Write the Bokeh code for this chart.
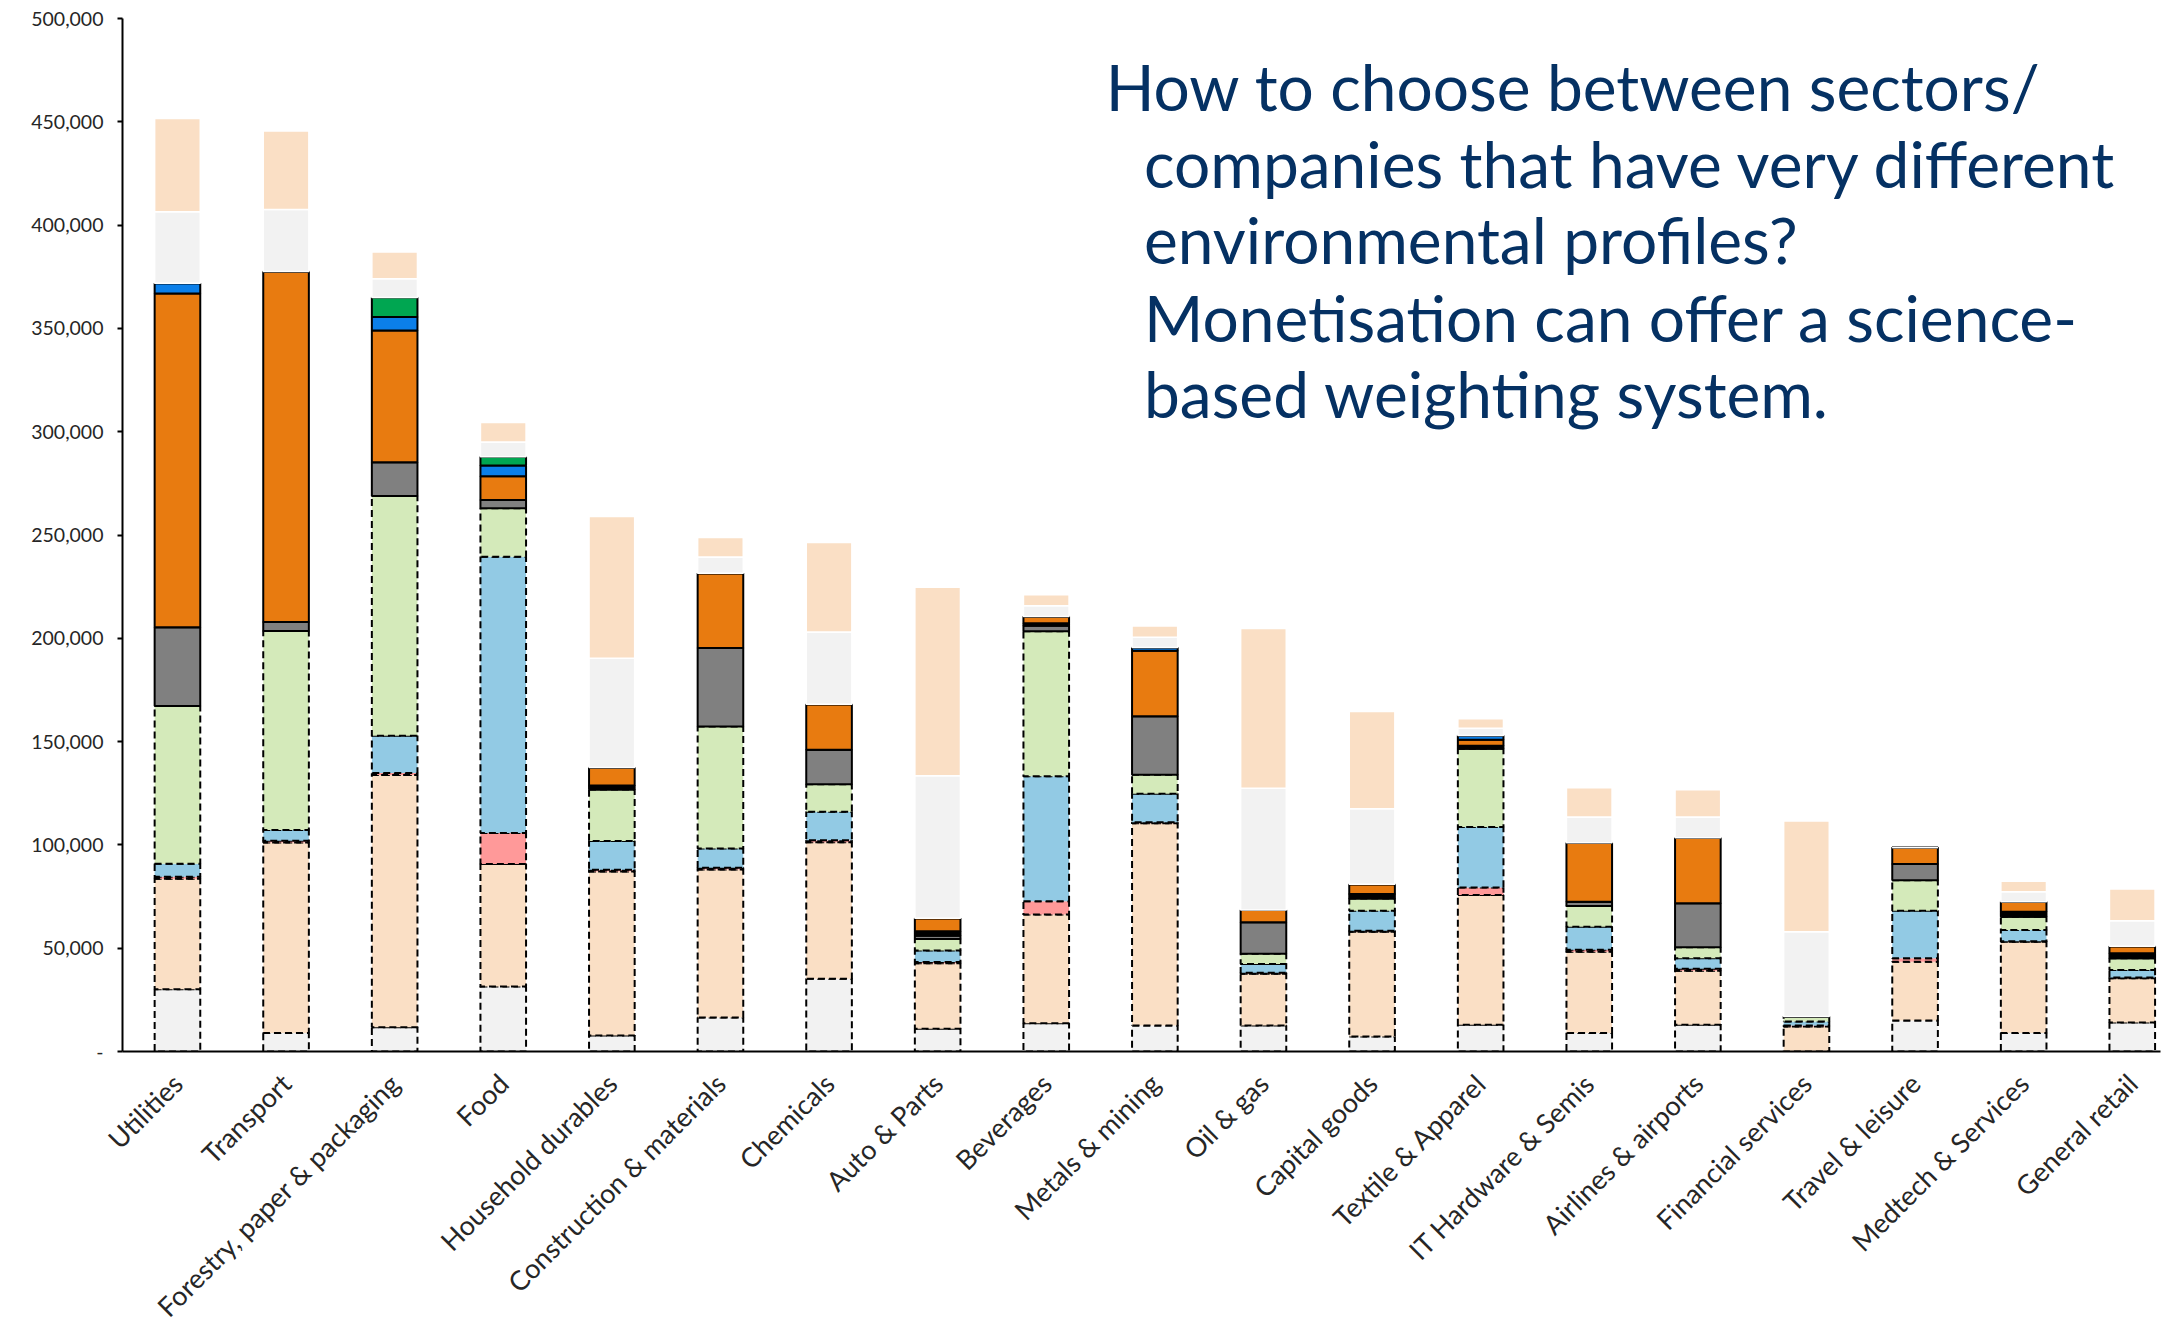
import math
import numpy as np
from bokeh.plotting import figure
from bokeh.models import ColumnDataSource, Range1d, FixedTicker, NumeralTickFormatter, Label
from bokeh.embed import file_html
from bokeh.resources import INLINE

# ---------------- data (values in thousands) ----------------
categories = ["Utilities", "Transport", "Forestry, paper & packaging", "Food",
              "Household durables", "Construction & materials", "Chemicals",
              "Auto & Parts", "Beverages", "Metals & mining", "Oil & gas",
              "Capital goods", "Textile & Apparel", "IT Hardware & Semis",
              "Airlines & airports", "Financial services", "Travel & leisure",
              "Medtech & Services", "General retail"]

base_grey   = [30.1, 9.0, 11.7, 31.5, 7.7, 16.5, 35.2, 11.0, 13.7, 12.6, 12.6, 7.2, 12.9, 8.9, 12.9, 0.0, 15.0, 8.9, 14.0]
peach       = [53.5, 92.2, 122.1, 59.2, 79.4, 71.6, 66.1, 31.7, 52.6, 97.9, 25.0, 50.8, 62.8, 39.4, 26.2, 12.1, 28.5, 44.2, 21.4]
pink        = [1.0, 0.8, 1.0, 15.1, 0.9, 0.9, 0.9, 0.6, 6.4, 0.5, 0.5, 0.5, 3.7, 0.9, 0.9, 0.5, 1.6, 0.3, 0.4]
light_blue  = [6.3, 5.2, 18.0, 133.7, 13.9, 9.3, 13.8, 5.6, 60.5, 13.7, 4.3, 9.6, 29.3, 11.2, 5.1, 1.9, 23.0, 5.4, 3.7]
light_green = [76.3, 96.3, 116.1, 23.5, 24.9, 59.0, 13.4, 5.6, 70.2, 9.3, 4.9, 6.0, 37.8, 10.0, 5.3, 2.4, 14.8, 6.4, 5.6]
dark_grey   = [38.2, 4.4, 16.3, 4.0, 0.0, 38.0, 16.7, 1.5, 2.7, 28.3, 15.3, 0.0, 0.0, 2.1, 21.3, 0.0, 7.8, 0.0, 0.0]
black       = [0.0, 0.0, 0.0, 0.0, 2.0, 0.0, 0.0, 2.2, 1.2, 0.0, 0.0, 2.1, 1.5, 0.0, 0.0, 0.0, 0.0, 2.4, 2.4]
orange      = [161.5, 169.6, 63.8, 11.4, 8.7, 36.2, 22.0, 6.3, 3.2, 31.7, 5.9, 4.8, 2.9, 28.5, 31.8, 0.0, 8.0, 4.9, 3.5]
blue        = [4.9, 0.0, 6.5, 5.3, 0.0, 0.0, 0.0, 0.0, 0.0, 1.6, 0.0, 0.0, 2.1, 0.0, 0.0, 0.0, 0.0, 0.0, 0.0]
green       = [0.0, 0.0, 9.5, 4.2, 0.0, 0.0, 0.0, 0.0, 0.0, 0.0, 0.0, 0.0, 0.0, 0.0, 0.0, 0.0, 0.0, 0.0, 0.0]
top_grey    = [34.7, 30.0, 9.0, 7.1, 52.9, 7.8, 34.9, 69.0, 5.3, 4.9, 58.9, 36.5, 3.5, 12.5, 10.0, 41.1, 0.0, 4.8, 12.3]
top_peach   = [45.1, 38.1, 13.0, 9.5, 68.6, 9.5, 43.4, 91.2, 5.3, 5.5, 77.4, 47.1, 4.5, 14.2, 13.2, 53.6, 0.0, 5.1, 15.4]

y_ticks = [0, 50000, 100000, 150000, 200000, 250000, 300000, 350000, 400000, 450000, 500000]

title_lines = ["How to choose between sectors/",
               "companies that have very different",
               "environmental profiles?",
               "Monetisation can offer a science-",
               "based weighting system."]

# ---------------- styling ----------------
series = ["base_grey", "peach", "pink", "light_blue", "light_green", "dark_grey",
          "black", "orange", "blue", "green", "top_grey", "top_peach"]
series_values = [base_grey, peach, pink, light_blue, light_green, dark_grey,
                 black, orange, blue, green, top_grey, top_peach]
fills = ["#F2F2F2", "#FADFC5", "#FF9999", "#92CAE4", "#D4EABA", "#808080",
         "#000000", "#E87B10", "#0B7FE9", "#00A651", "#F2F2F2", "#FADFC5"]
line_colors = ["#000000"] * 10 + ["#FFFFFF", "#FFFFFF"]
line_dashes = ["7 4"] * 5 + ["solid"] * 7
line_widths = [2] * 10 + [1.5, 1.5]

data = {"x": list(range(len(categories)))}
for name, vals in zip(series, series_values):
    data[name] = list(np.array(vals) * 1000.0)
src = ColumnDataSource(data)

p = figure(frame_width=2038, frame_height=1033,
           x_range=Range1d(-0.506, 18.26), y_range=Range1d(0, 500000),
           output_backend="svg", toolbar_location=None,
           min_border_left=122, min_border_top=18, min_border_right=5,
           min_border_bottom=10)

p.vbar_stack(series, x="x", width=0.42, source=src,
             fill_color=fills, line_color=line_colors,
             line_dash=line_dashes, line_width=line_widths)

p.xgrid.grid_line_color = None
p.ygrid.grid_line_color = None
p.outline_line_color = None
p.background_fill_color = "white"

# y axis
p.yaxis.ticker = FixedTicker(ticks=y_ticks)
p.yaxis.formatter = NumeralTickFormatter(format="0,0")
p.yaxis.major_label_overrides = {0: "-"}
p.yaxis.axis_line_color = "#000000"
p.yaxis.axis_line_width = 2
p.yaxis.major_tick_out = 5
p.yaxis.major_tick_in = 0
p.yaxis.major_tick_line_width = 2
p.yaxis.minor_tick_line_color = None
p.yaxis.major_label_text_font = "Lato"
p.yaxis.major_label_text_font_size = "19.5px"
p.yaxis.major_label_text_color = "#262626"
p.yaxis.major_label_standoff = 14

# x axis
p.xaxis.ticker = FixedTicker(ticks=list(range(len(categories))))
p.xaxis.major_label_overrides = {i: c for i, c in enumerate(categories)}
p.xaxis.major_label_orientation = math.pi / 4
p.xaxis.axis_line_color = "#000000"
p.xaxis.axis_line_width = 2
p.xaxis.major_tick_line_color = None
p.xaxis.minor_tick_line_color = None
p.xaxis.major_label_text_font = "Lato"
p.xaxis.major_label_text_font_size = "27px"
p.xaxis.major_label_text_color = "#262626"
p.xaxis.major_label_standoff = 21

# title text block
title_x = [8.547, 8.90, 8.90, 8.90, 8.90]
title_y = [466900, 429600, 392800, 355100, 318300]
for tx, ty, line in zip(title_x, title_y, title_lines):
    p.add_layout(Label(x=tx, y=ty, text=line, text_font="Lato",
                       text_font_size="64px", text_color="#053163",
                       text_align="left", text_baseline="alphabetic"))

open("out.html", "w").write(file_html(p, INLINE))
